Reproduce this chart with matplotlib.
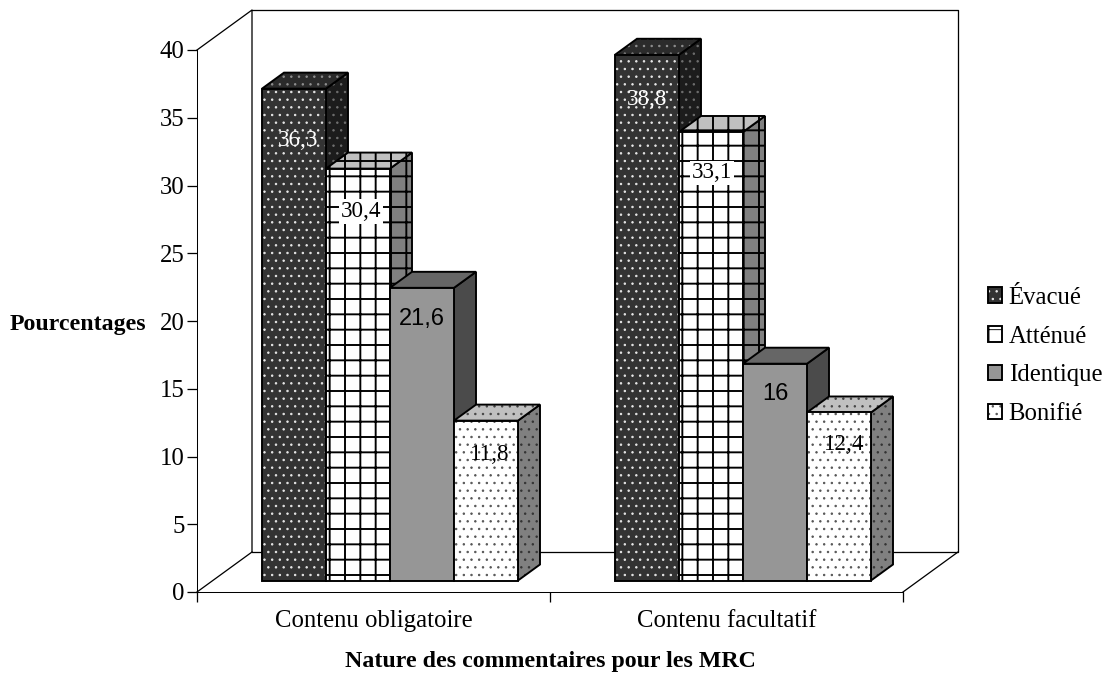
import numpy as np
import matplotlib
matplotlib.use('Agg')
import matplotlib.pyplot as plt
from matplotlib.patches import Patch
from matplotlib.legend_handler import HandlerTuple

categories = ['Contenu obligatoire', 'Contenu facultatif']
series_names = ['Évacué', 'Atténué', 'Identique', 'Bonifié']
evacue = [36.3, 38.8]
attenue = [30.4, 33.1]
identique = [21.6, 16]
bonifie = [11.8, 12.4]
evacue_txt = ['36,3', '38,8']
attenue_txt = ['30,4', '33,1']
identique_txt = ['21,6', '16']
bonifie_txt = ['11,8', '12,4']
y_ticks = [0, 5, 10, 15, 20, 25, 30, 35, 40]

plt.rcParams['font.family'] = ['Liberation Serif', 'DejaVu Serif']

DPI = 92
FS = 19.4
FS_BOLD = 18.7
# pixels -> data units (1 category = 353 px, 1 y unit = 13.55 px)
PX_X = 1 / 353
PX_Y = 1 / 13.55
WALL_X, WALL_Y = 55 * PX_X, 40 * PX_Y
BAR_DX, BAR_DY = 22 * PX_X, 16 * PX_Y
SHIFT_X, SHIFT_Y = 16.5 * PX_X, 11.5 * PX_Y
BAR_W = 64 * PX_X

# front, top, side colours, hatch, hatch colour for front/top/side, hatch lw
styles = [
    dict(front='#333333', top='#2b2b2b', side='#1c1c1c', hatch='..', hc=('#e8e8e8', '#909090', '#707070'), hlw=0.7),
    dict(front='#ffffff', top='#c0c0c0', side='#808080', hatch='+', hc=('#000000', '#000000', '#000000'), hlw=1.5),
    dict(front='#969696', top='#666666', side='#4b4b4b', hatch=None, hc=('#000000', '#000000', '#000000'), hlw=0.5),
    dict(front='#ffffff', top='#c0c0c0', side='#808080', hatch='..', hc=('#555555', '#444444', '#333333'), hlw=0.7),
]
label_fonts = ['Liberation Serif', 'Liberation Serif', 'Liberation Sans', 'Liberation Serif']
label_sizes = [18, 18, 18.5, 18]
label_cols = ['white', 'black', 'black', 'black']
# label offset from the top centre of the bar, px
label_off = [[(4, -52), (0, -45)], [(3, -43), (1, -41)], [(0, -31), (0, -30)], [(4, -34), (5, -32)]]

fig = plt.figure(figsize=(1108 / DPI, 677 / DPI), dpi=DPI)
ax = fig.add_axes([197 / 1108, 85 / 677, 706 / 1108, 542 / 677])
ax.set_xlim(0, 2)
ax.set_ylim(0, 40)

# back wall and floor
wall = dict(color='black', lw=1, zorder=1, clip_on=False)
ax.plot([0, WALL_X, WALL_X], [40, 40 + WALL_Y, 0 + WALL_Y], **wall)
ax.plot([WALL_X, 2 + WALL_X, 2 + WALL_X, WALL_X], [40 + WALL_Y, 40 + WALL_Y, WALL_Y, WALL_Y], **wall)
ax.plot([0, WALL_X], [0, WALL_Y], **wall)
ax.plot([2, 2 + WALL_X], [0, WALL_Y], **wall)

values = [evacue, attenue, identique, bonifie]
labels = [evacue_txt, attenue_txt, identique_txt, bonifie_txt]


def face(xs, ys, color, st, hc, z):
    plt.rcParams['hatch.linewidth'] = st['hlw']
    ax.fill(xs, ys, facecolor=color, edgecolor=hc, hatch=st['hatch'], lw=0, zorder=z, clip_on=False)
    ax.fill(xs, ys, fill=False, edgecolor='black', lw=1.5, zorder=z, clip_on=False)


z = 2
for c in range(2):
    for i, st in enumerate(styles):
        left = c + 0.5 + (i - 2) * BAR_W + SHIFT_X
        right = left + BAR_W
        base = SHIFT_Y
        top = base + values[i][c]
        face([right, right + BAR_DX, right + BAR_DX, right],
             [base, base + BAR_DY, top + BAR_DY, top], st['side'], st, st['hc'][2], z)
        face([left, left + BAR_DX, right + BAR_DX, right],
             [top, top + BAR_DY, top + BAR_DY, top], st['top'], st, st['hc'][1], z)
        plt.rcParams['hatch.linewidth'] = st['hlw']
        ax.bar(left, values[i][c], BAR_W, bottom=base, align='edge', color=st['front'],
               edgecolor=st['hc'][0], hatch=st['hatch'], lw=0, zorder=z)
        ax.bar(left, values[i][c], BAR_W, bottom=base, align='edge', fill=False,
               edgecolor='black', lw=1.5, zorder=z)
        dx, dy = label_off[i][c]
        bbox = dict(fc='white', ec='none', pad=1.5) if i == 1 else None
        ax.text(left + BAR_W / 2 + dx * PX_X, top + dy * PX_Y, labels[i][c], ha='center', va='center',
                fontsize=label_sizes[i], color=label_cols[i], family=label_fonts[i], bbox=bbox, zorder=50)
        z += 1

# axes
for s in ['top', 'right']:
    ax.spines[s].set_visible(False)
ax.patch.set_alpha(0)
ax.set_yticks(y_ticks)
ax.set_xticks([0, 1, 2])
ax.set_xticklabels(['', '', ''])
ax.set_xticks([0.5, 1.5], minor=True)
ax.set_xticklabels(categories, minor=True, fontsize=FS)
ax.tick_params(axis='y', length=7.5, width=1, labelsize=FS, pad=2)
ax.tick_params(axis='x', which='major', length=8, width=1)
ax.tick_params(axis='x', which='minor', length=0, pad=14)

ax.set_ylabel('Pourcentages', rotation=0, fontsize=FS_BOLD, fontweight='bold', ha='center', va='center')
ax.yaxis.set_label_coords(-0.1686, 0.494)
ax.set_xlabel('Nature des commentaires pour les MRC', fontsize=FS_BOLD, fontweight='bold', va='center')
ax.xaxis.set_label_coords(0.5, -69 / 542)

# legend
handles = []
for st in styles:
    plt.rcParams['hatch.linewidth'] = st['hlw']
    handles.append((Patch(facecolor=st['front'], edgecolor=st['hc'][0], hatch=st['hatch'], lw=0),
                    Patch(fill=False, edgecolor='black', lw=1.5)))
fig.legend(handles, series_names, handler_map={tuple: HandlerTuple(ndivide=1, pad=0)},
           loc='center left', bbox_to_anchor=(988 / 1108, 1 - 356 / 677), frameon=False, fontsize=FS,
           labelspacing=0.68, handlelength=0.58, handleheight=0.58, handletextpad=0.26,
           borderaxespad=0, borderpad=0)

fig.savefig('out.png', dpi=DPI)
